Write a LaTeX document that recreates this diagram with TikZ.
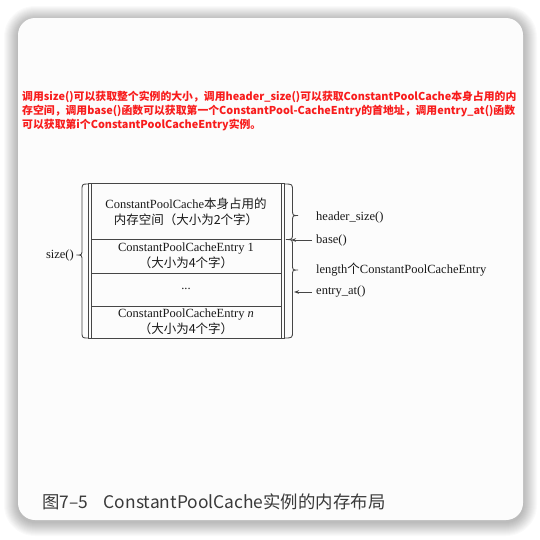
\documentclass[tikz,border=0pt]{standalone}
\usepackage{fontspec}
\setmainfont{Liberation Serif}
\newfontfamily\cjk{Noto Sans CJK SC}
\usetikzlibrary{arrows.meta}
\definecolor{redtxt}{RGB}{248,28,28}
\definecolor{captxt}{RGB}{58,58,58}
\definecolor{linec}{RGB}{70,70,70}
\tikzset{
  boxtxt/.style={font=\fontsize{12.5}{15}\selectfont, align=center, inner sep=0pt, text=black!90},
  lbl/.style={font=\fontsize{12.5}{15}\selectfont, anchor=west, inner sep=0pt, text=black!90},
  redline/.style={font=\cjk\bfseries\fontsize{10.85}{13}\selectfont, anchor=west, inner sep=0pt, text=redtxt},
  bracel/.style={draw=linec, line width=0.85pt},
  ptr/.style={draw=linec, line width=0.85pt, -{Stealth[length=5pt,width=3.6pt]}},
}
\begin{document}
\begin{tikzpicture}[x=1pt,y=-1pt]
\useasboundingbox (0,0) rectangle (540,539);
\fill[white] (0,0) rectangle (540,539);
% card shadow
\foreach \i in {1,...,14}{
  \fill[black, opacity=0.018, rounded corners={17+\i}] (18-\i,18-\i+2) rectangle (523+\i,520+\i+2);
}
\fill[white!99!black, rounded corners=17] (18,18) rectangle (523,520);

% red text
\node[redline] (r1) at (22,97) {调用size()可以获取整个实例的大小，调用header\_size()可以获取ConstantPoolCache本身占用的内};
\node[redline] (r2) at (22,111) {存空间，调用base()函数可以获取第一个ConstantPool-CacheEntry的首地址，调用entry\_at()函数};
\node[redline] (r3) at (22,125) {可以获取第i个ConstantPoolCacheEntry实例。};

% box
\draw[linec, line width=0.85pt] (88,183) rectangle (284,338);
\draw[linec, line width=0.85pt] (91,183) -- (91,338);
\draw[linec, line width=0.85pt] (281,183) -- (281,338);
\foreach \yy in {239,273,306}{ \draw[linec, line width=0.85pt] (91,\yy) -- (281,\yy); }

\node[boxtxt] (b1) at (186,212) {ConstantPoolCache{\cjk 本身占用的}\\[1pt]{\cjk 内存空间（大小为2个字）}};
\node[boxtxt] (b2) at (186,256) {ConstantPoolCacheEntry 1\\[1pt]{\cjk （大小为4个字）}};
\node[boxtxt] (b3) at (186,289) {...};
\node[boxtxt] (b4) at (186,322) {ConstantPoolCacheEntry \textit{n}\\[1pt]{\cjk （大小为4个字）}};

% left brace
\draw[bracel] (88,184) .. controls (82,184) .. (82,191) -- (82,249)
  .. controls (82,255) .. (76.5,255) .. controls (82,255) .. (82,261)
  -- (82,331) .. controls (82,338) .. (88,338);
\node[lbl, anchor=east] (sz) at (74,255) {size()};

% right braces
\draw[bracel] (284,184) .. controls (292.5,184) .. (292.5,191) -- (292.5,209)
  .. controls (292.5,215.5) .. (298,215.5) .. controls (292.5,215.5) .. (292.5,222)
  -- (292.5,233) .. controls (292.5,239.5) .. (286,239.5)
  .. controls (292.5,239.5) .. (292.5,246) -- (292.5,264)
  .. controls (292.5,270) .. (298,270) .. controls (292.5,270) .. (292.5,276)
  -- (292.5,331) .. controls (292.5,338) .. (284,338);
\coordinate (bj) at (291,240);
\coordinate (ej) at (294,292);

\node[lbl] (hs) at (316,217) {header\_size()};
\node[lbl] (bs) at (316,240) {base()};
\node[lbl] (ln) at (316,270) {length{\cjk 个}ConstantPoolCacheEntry};
\node[lbl] (ea) at (316,292) {entry\_at()};
\draw[ptr] ([xshift=-4pt]bs.west) -- (bj);
\draw[ptr] ([xshift=-4pt]ea.west) -- (ej);

% caption
\node[anchor=west, inner sep=0pt, text=captxt, font=\cjk\fontsize{17.4}{20}\selectfont] (cap) at (42,502) {图7–5\hspace{0.9em}ConstantPoolCache实例的内存布局};
\end{tikzpicture}
\end{document}
